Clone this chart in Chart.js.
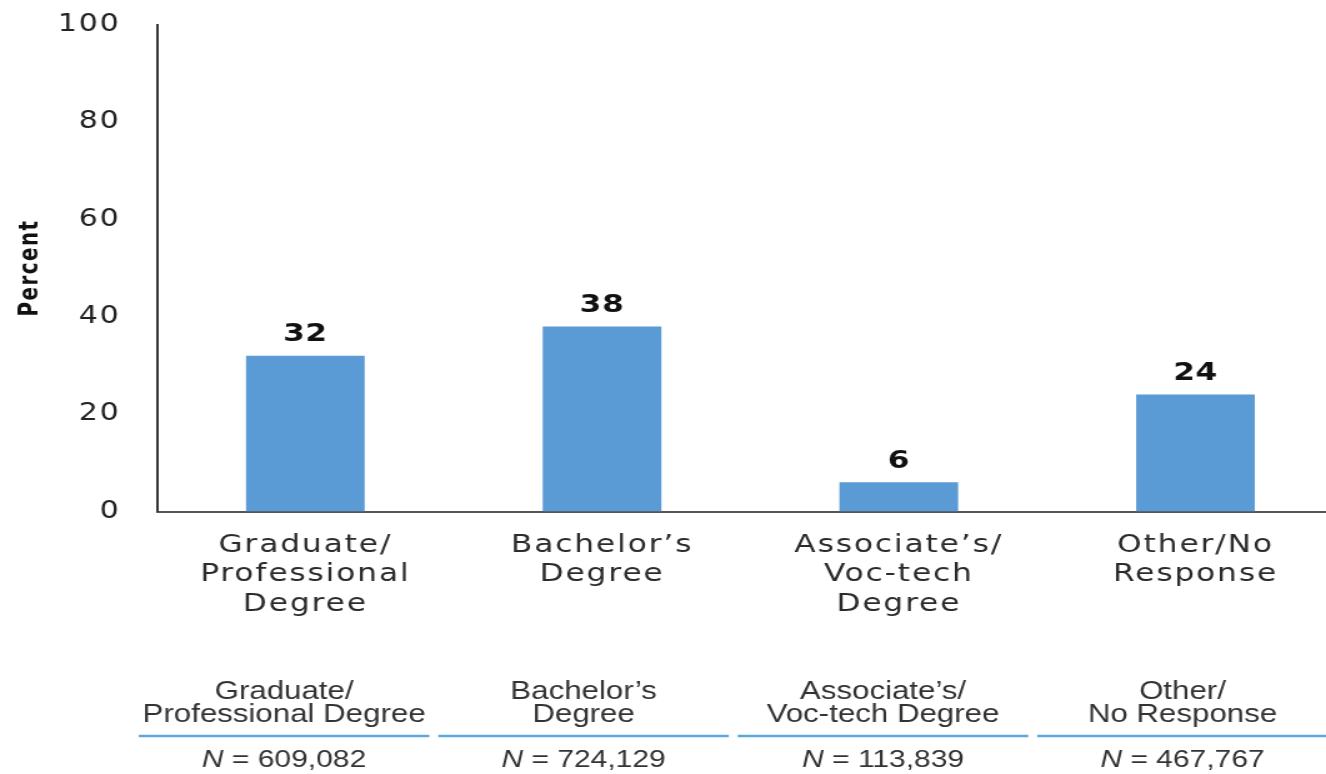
<!DOCTYPE html>
<html>
<head>
<meta charset="utf-8">
<script src="https://cdn.jsdelivr.net/npm/chart.js@4"></script>
<style>
  html, body { margin: 0; padding: 0; background: #fff; overflow: hidden; }
  /* the original artwork is stretched sideways, so the whole chart is too */
  #wrap { width: 1061px; height: 774px; transform: scaleX(1.2498); transform-origin: 0 0; }
</style>
</head>
<body>
<div id="wrap"><canvas id="chart-degree"></canvas></div>
<script>
var categories = [
    ["Graduate/", "Professional", "Degree"],
    ["Bachelor\u2019s", "Degree"],
    ["Associate\u2019s/", "Voc-tech", "Degree"],
    ["Other/No", "Response"]
];
var percents = [32, 38, 6, 24];
var yTicks = [0, 20, 40, 60, 80, 100];
var tableHeaders = [
    ["Graduate/", "Professional Degree"],
    ["Bachelor\u2019s", "Degree"],
    ["Associate\u2019s/", "Voc-tech Degree"],
    ["Other/", "No Response"]
];
var sampleSizes = [609082, 724129, 113839, 467767];

// wide, loosely tracked lettering like the original
var tracking = {
    id: 'tracking',
    beforeLayout: function(chart) { chart.ctx.letterSpacing = '1.5px'; },
    beforeDraw: function(chart) { chart.ctx.letterSpacing = '1.5px'; }
};

// number above each bar
var valueLabels = {
    id: 'valueLabels',
    afterDatasetsDraw: function(chart) {
        var ctx = chart.ctx;
        ctx.save();
        ctx.letterSpacing = '0.5px';
        ctx.font = 'bold 25px "DejaVu Sans"';
        ctx.fillStyle = '#111';
        ctx.textAlign = 'center';
        ctx.textBaseline = 'middle';
        chart.getDatasetMeta(0).data.forEach(function(bar, i) {
            ctx.fillText(percents[i], bar.x, bar.y - 21);
        });
        ctx.restore();
    }
};

// the N table under the chart
var sampleTable = {
    id: 'sampleTable',
    afterDraw: function(chart) {
        var ctx = chart.ctx;
        var xs = chart.scales.x;
        var step = xs.getPixelForValue(1) - xs.getPixelForValue(0);
        ctx.save();
        ctx.letterSpacing = '0px';
        ctx.fillStyle = '#333';
        ctx.textBaseline = 'middle';
        for (var i = 0; i < tableHeaders.length; i++) {
            var cx = xs.getPixelForValue(i) - 17 + 2.2 * i;
            var half = step / 2 - 2.5;
            ctx.font = '25px "Liberation Sans"';
            ctx.textAlign = 'center';
            ctx.fillText(tableHeaders[i][0], cx, 692);
            ctx.fillText(tableHeaders[i][1], cx, 715);

            ctx.strokeStyle = '#5aa8df';
            ctx.lineWidth = 2.5;
            ctx.beginPath();
            ctx.moveTo(cx - half, 736);
            ctx.lineTo(Math.min(cx + half, chart.width), 736);
            ctx.stroke();

            var rest = ' = ' + sampleSizes[i].toLocaleString('en-US');
            ctx.font = 'italic 24px "Liberation Sans"';
            var wN = ctx.measureText('N').width;
            ctx.font = '24px "Liberation Sans"';
            var wR = ctx.measureText(rest).width;
            var x0 = cx - (wN + wR) / 2;
            ctx.textAlign = 'left';
            ctx.font = 'italic 24px "Liberation Sans"';
            ctx.fillText('N', x0, 760);
            ctx.font = '24px "Liberation Sans"';
            ctx.fillText(rest, x0 + wN, 760);
        }
        ctx.restore();
    }
};

var chartD = document.getElementById("chart-degree");
var chartDegree = new Chart(chartD, {
    type: 'bar',
    plugins: [tracking, valueLabels, sampleTable],
    data: {
        datasets: [{
            data: percents.map(function(v, i) { return {x: i, y: v}; }),
            backgroundColor: '#5b9bd5',
            borderWidth: 0,
            barPercentage: 0.4,
            categoryPercentage: 1.0,
        }]
    },
    options: {
        responsive: true,
        maintainAspectRatio: false,
        animation: false,
        layout: {
            padding: { top: 24.5, right: 0, bottom: 136, left: 0 }
        },
        plugins: {
            legend: { display: false },
            tooltip: { enabled: false },
        },
        scales: {
            x: {
                type: 'linear',
                offset: false,
                min: -0.5,
                max: 3.44,
                afterBuildTicks: function(scale) {
                    scale.ticks = categories.map(function(c, i) { return {value: i}; });
                },
                grid: { display: false, drawTicks: false, offset: false },
                border: { display: true, color: '#555', width: 2 },
                ticks: {
                    autoSkip: false,
                    maxRotation: 0,
                    padding: 19,
                    color: '#2b2b2b',
                    font: { family: '"DejaVu Sans"', size: 25, lineHeight: 1.18 },
                    callback: function(v) { return categories[v]; }
                }
            },
            y: {
                min: 0,
                max: 100,
                afterBuildTicks: function(scale) {
                    scale.ticks = yTicks.map(function(v) { return {value: v}; });
                },
                afterFit: function(scale) {
                    scale.width = 125.6;
                    scale.paddingTop = 0;
                    scale.paddingBottom = 0;
                },
                grid: { display: false, drawTicks: false },
                border: { display: true, color: '#333', width: 2 },
                ticks: {
                    padding: 29,
                    color: '#222',
                    font: { family: '"DejaVu Sans"', size: 24 },
                },
                title: {
                    display: true,
                    text: 'Percent',
                    color: '#111',
                    padding: { top: 11, bottom: 4 },
                    font: { family: '"Liberation Sans Narrow", "DejaVu Sans Condensed"', weight: 'bold', size: 22 }
                }
            }
        }
    }
});
</script>
</body>
</html>
